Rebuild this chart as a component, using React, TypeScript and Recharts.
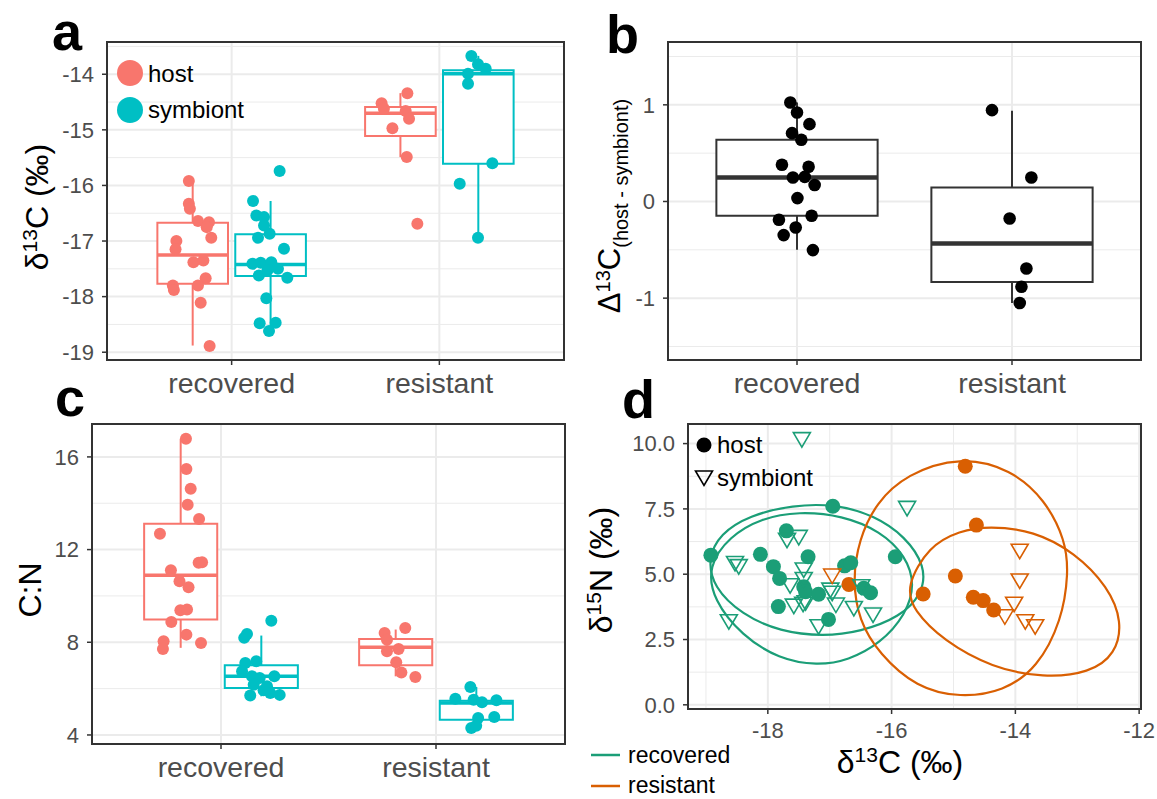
import React from "react";
import {
  ComposedChart,
  XAxis,
  YAxis,
  Scatter,
  Line,
  ReferenceArea,
  ReferenceLine,
} from "recharts";

const FONT = "'Liberation Sans', Arial, Helvetica, sans-serif";
const HOST = "#F8766D";
const SYMB = "#00BFC4";
const REC = "#1B9E77";
const RES = "#D95F02";
const TICK = "#4d4d4d";

const CATS = ["recovered", "resistant"];

// panel a: d13C, [jittered x, value]
const aHostRecovered = [[0.794, -15.92], [0.794, -16.33], [0.799, -16.42], [0.838, -16.64], [0.891, -16.66], [0.88, -16.75], [0.902, -16.94], [0.734, -17.0], [0.73, -17.15], [0.816, -17.38], [0.864, -17.35], [0.717, -17.8], [0.722, -17.88], [0.875, -17.67], [0.838, -17.8], [0.851, -18.11], [0.894, -18.89]];
const aSymbRecovered = [[1.231, -15.74], [1.103, -16.28], [1.119, -16.54], [1.156, -16.57], [1.156, -16.72], [1.183, -16.87], [1.127, -16.94], [1.252, -17.14], [1.1, -17.41], [1.14, -17.39], [1.191, -17.38], [1.223, -17.5], [1.131, -17.62], [1.268, -17.66], [1.172, -17.53], [1.167, -18.03], [1.135, -18.48], [1.212, -18.47], [1.18, -18.62]];
const aHostResistant = [[1.846, -14.34], [1.722, -14.52], [1.733, -14.62], [1.838, -14.66], [1.854, -14.8], [1.774, -14.97], [1.843, -15.49], [1.894, -16.69]];
const aSymbResistant = [[2.154, -13.67], [2.186, -13.82], [2.223, -13.9], [2.138, -13.99], [2.138, -14.17], [2.255, -15.6], [2.098, -15.97], [2.186, -16.94]];
// box stats per category: lower whisker, q1, median, q3, upper whisker
const aHostBox = [[-18.88, -17.77, -17.25, -16.67, -15.92], [-15.49, -15.11, -14.7, -14.59, -14.34]];
const aSymbBox = [[-18.62, -17.63, -17.42, -16.88, -16.28], [-16.94, -15.61, -13.99, -13.93, -13.67]];

// panel b: host - symbiont
const bRecovered = [[0.969, 1.024], [1.0, 0.92], [1.058, 0.8], [0.977, 0.707], [1.02, 0.638], [0.93, 0.38], [1.054, 0.359], [0.981, 0.248], [1.036, 0.255], [1.082, 0.17], [1.002, 0.035], [0.916, -0.189], [1.068, -0.148], [0.994, -0.269], [0.938, -0.348], [1.074, -0.503]];
const bResistant = [[1.907, 0.945], [2.09, 0.248], [1.989, -0.176], [2.067, -0.693], [2.044, -0.882], [2.036, -1.051]];
const bBox = [[-0.5, -0.148, 0.248, 0.638, 1.024], [-1.05, -0.834, -0.434, 0.145, 0.938]];

// panel c: C:N
const cHostRecovered = [[0.837, 16.78], [0.839, 15.48], [0.859, 14.63], [0.845, 13.94], [0.898, 13.32], [0.716, 12.68], [0.896, 11.43], [0.912, 11.45], [0.767, 11.11], [0.807, 10.63], [0.849, 10.37], [0.811, 9.38], [0.842, 9.41], [0.769, 8.88], [0.839, 8.33], [0.733, 8.04], [0.73, 7.71], [0.907, 7.97]];
const cSymbRecovered = [[1.234, 8.93], [1.108, 8.19], [1.121, 8.36], [1.113, 7.11], [1.164, 7.18], [1.098, 6.75], [1.144, 6.53], [1.18, 6.46], [1.248, 6.53], [1.214, 6.1], [1.152, 6.17], [1.229, 5.81], [1.136, 5.7], [1.273, 5.73], [1.198, 5.93]];
const cHostResistant = [[1.857, 8.62], [1.761, 8.4], [1.772, 8.11], [1.826, 7.71], [1.772, 7.61], [1.815, 7.14], [1.839, 6.7], [1.904, 6.5]];
const cSymbResistant = [[2.16, 6.07], [2.09, 5.56], [2.175, 5.52], [2.214, 5.41], [2.281, 5.5], [2.196, 4.73], [2.271, 4.78], [2.164, 4.3], [2.187, 4.4]];
const cHostBox = [[7.76, 8.98, 10.89, 13.12, 16.78], [6.53, 7.01, 7.78, 8.145, 8.55]];
const cSymbBox = [[5.67, 6.03, 6.53, 7.01, 8.29], [4.3, 4.66, 5.38, 5.48, 6.07]];

// panel d: d13C vs d15N
const dRecoveredHost = [[-18.92, 5.73], [-18.12, 5.76], [-17.91, 5.29], [-17.81, 4.84], [-17.83, 3.76], [-17.7, 6.66], [-17.35, 5.67], [-17.42, 4.52], [-17.39, 4.33], [-17.18, 4.23], [-16.95, 7.6], [-17.02, 3.27], [-16.76, 5.32], [-16.66, 5.44], [-16.45, 4.46], [-16.34, 4.29], [-15.94, 5.67]];
const dResistantHost = [[-14.81, 9.13], [-14.63, 6.88], [-16.69, 4.61], [-15.49, 4.24], [-14.97, 4.93], [-14.68, 4.12], [-14.52, 3.99], [-14.35, 3.63]];
const dRecoveredSymb = [[-17.45, 10.15], [-18.53, 5.41], [-18.47, 5.29], [-18.63, 3.18], [-17.69, 6.3], [-17.5, 6.41], [-17.42, 5.16], [-17.42, 4.8], [-17.64, 4.56], [-17.58, 3.78], [-17.43, 3.85], [-17.39, 3.91], [-17.18, 2.99], [-16.99, 4.39], [-16.96, 4.27], [-16.9, 3.82], [-16.61, 3.69], [-16.49, 4.52], [-16.3, 3.44], [-15.75, 7.52]];
const dResistantSymb = [[-16.96, 4.93], [-13.93, 5.88], [-13.93, 4.74], [-14.02, 3.85], [-14.17, 3.37], [-13.84, 3.18], [-13.68, 2.99]];
// ellipse outlines
const ellRecoveredA = [[-18.97, 5.6], [-18.77, 6.55], [-18.3, 7.25], [-17.6, 7.65], [-16.9, 7.68], [-16.28, 7.25], [-15.78, 6.45], [-15.45, 5.3], [-15.5, 4.25], [-15.87, 3.35], [-16.5, 2.8], [-17.1, 2.62], [-17.8, 2.8], [-18.42, 3.45], [-18.88, 4.5]];
const ellRecoveredB = [[-18.97, 5.3], [-18.62, 6.45], [-18.1, 7.15], [-17.5, 7.4], [-16.8, 7.25], [-16.18, 6.65], [-15.77, 5.7], [-15.62, 4.6], [-15.77, 3.45], [-16.18, 2.35], [-16.7, 1.7], [-17.2, 1.5], [-17.82, 1.75], [-18.42, 2.65], [-18.88, 4.0]];
const ellResistantHost = [[-16.63, 4.78], [-16.53, 6.32], [-16.25, 7.74], [-15.76, 8.83], [-14.89, 9.52], [-14.07, 9.02], [-13.52, 7.86], [-13.19, 6.3], [-13.14, 5.03], [-13.25, 3.23], [-13.64, 1.42], [-14.19, 0.52], [-14.89, 0.27], [-15.6, 0.66], [-16.2, 1.95], [-16.53, 3.23]];
const ellResistantSymb = [[-15.77, 4.52], [-15.4, 6.08], [-14.9, 6.66], [-14.43, 6.85], [-13.7, 6.66], [-13.04, 5.83], [-12.5, 4.52], [-12.27, 3.18], [-12.38, 1.94], [-12.8, 1.22], [-13.54, 1.03], [-14.38, 1.42], [-15.16, 2.45], [-15.65, 3.62]];

const pts = (arr: number[][]) => arr.map(([x, y]) => ({ x, y }));

const dot = (fill: string, r: number) => (p: any) => (
  <circle cx={p.cx} cy={p.cy} r={r} fill={fill} />
);

const tri = (stroke: string) => (p: any) => (
  <polygon
    points={`${p.cx - 8.5},${p.cy - 7} ${p.cx + 8.5},${p.cy - 7} ${p.cx},${p.cy + 7.5}`}
    fill="none"
    stroke={stroke}
    strokeWidth={1.6}
  />
);

const grid = (id: string, xMajor: number[], xMinor: number[], yMajor: number[], yMinor: number[]) => [
  ...xMinor.map((v) => <ReferenceLine key={`${id}xm${v}`} x={v} stroke="#ebebeb" strokeWidth={1} zIndex={-100} />),
  ...yMinor.map((v) => <ReferenceLine key={`${id}ym${v}`} y={v} stroke="#ebebeb" strokeWidth={1} zIndex={-100} />),
  ...xMajor.map((v) => <ReferenceLine key={`${id}xM${v}`} x={v} stroke="#ebebeb" strokeWidth={2} zIndex={-100} />),
  ...yMajor.map((v) => <ReferenceLine key={`${id}yM${v}`} y={v} stroke="#ebebeb" strokeWidth={2} zIndex={-100} />),
];

const box = (id: string, cx: number, half: number, s: number[], color: string, lw: number, mw: number) => [
  <ReferenceLine key={`${id}lo`} segment={[{ x: cx, y: s[0] }, { x: cx, y: s[1] }]} stroke={color} strokeWidth={lw} zIndex={150} />,
  <ReferenceLine key={`${id}hi`} segment={[{ x: cx, y: s[3] }, { x: cx, y: s[4] }]} stroke={color} strokeWidth={lw} zIndex={150} />,
  <ReferenceArea key={`${id}bx`} x1={cx - half} x2={cx + half} y1={s[1]} y2={s[3]} fill="#fff" fillOpacity={1} stroke={color} strokeWidth={lw} zIndex={100} />,
  <ReferenceLine key={`${id}md`} segment={[{ x: cx - half, y: s[2] }, { x: cx + half, y: s[2] }]} stroke={color} strokeWidth={mw} zIndex={150} />,
];

const frame = (xd: number[], yd: number[]) => (
  <ReferenceArea x1={xd[0]} x2={xd[1]} y1={yd[0]} y2={yd[1]} fill="none" stroke="#333" strokeWidth={2} zIndex={700} ifOverflow="visible" />
);

const xCat = (size: number) => (
  <XAxis
    type="number"
    dataKey="x"
    domain={[0.4, 2.6]}
    ticks={[1, 2]}
    interval={0}
    allowDataOverflow
    tickFormatter={(v: number) => CATS[Math.round(v) - 1]}
    axisLine={false}
    tickLine={{ stroke: "#333", strokeWidth: 1.5 }}
    tickSize={5}
    tickMargin={8}
    height={40}
    tick={{ fill: TICK, fontSize: size, fontFamily: FONT }}
  />
);

const yNum = (domain: number[], ticks: number[], fmt?: (v: number) => string) => (
  <YAxis
    type="number"
    dataKey="y"
    domain={domain}
    ticks={ticks}
    interval={0}
    allowDataOverflow
    tickFormatter={fmt}
    axisLine={false}
    tickLine={{ stroke: "#333", strokeWidth: 1.5 }}
    tickSize={5}
    tickMargin={8}
    width={60}
    tick={{ fill: TICK, fontSize: 22, fontFamily: FONT }}
  />
);

const DX = 0.1875;
const HW = 0.17;
const CAT_SIZE = 28.5;

function PanelA() {
  const yd = [-19.14, -13.42];
  return (
    <ComposedChart width={580} height={400} margin={{ top: 42, right: 16, bottom: 0, left: 47 }}>
      {xCat(CAT_SIZE)}
      {yNum(yd, [-19, -18, -17, -16, -15, -14])}
      {grid("a", [1, 2], [], [-19, -18, -17, -16, -15, -14], [-18.5, -17.5, -16.5, -15.5, -14.5, -13.5])}
      {box("ah1", 1 - DX, HW, aHostBox[0], HOST, 2, 3.5)}
      {box("as1", 1 + DX, HW, aSymbBox[0], SYMB, 2, 3.5)}
      {box("ah2", 2 - DX, HW, aHostBox[1], HOST, 2, 3.5)}
      {box("as2", 2 + DX, HW, aSymbBox[1], SYMB, 2, 3.5)}
      <Scatter data={pts(aHostRecovered)} shape={dot(HOST, 6)} isAnimationActive={false} />
      <Scatter data={pts(aSymbRecovered)} shape={dot(SYMB, 6)} isAnimationActive={false} />
      <Scatter data={pts(aHostResistant)} shape={dot(HOST, 6)} isAnimationActive={false} />
      <Scatter data={pts(aSymbResistant)} shape={dot(SYMB, 6)} isAnimationActive={false} />
      {frame([0.4, 2.6], yd)}
    </ComposedChart>
  );
}

function PanelB() {
  const yd = [-1.64, 1.65];
  return (
    <ComposedChart width={577} height={400} margin={{ top: 42, right: 16, bottom: 0, left: 28 }}>
      {xCat(CAT_SIZE)}
      {yNum(yd, [-1, 0, 1])}
      {grid("b", [1, 2], [], [-1, 0, 1], [-1.5, -0.5, 0.5, 1.5])}
      {box("b1", 1, 0.375, bBox[0], "#333", 2, 4.5)}
      {box("b2", 2, 0.375, bBox[1], "#333", 2, 4.5)}
      <Scatter data={pts(bRecovered)} shape={dot("#000", 6.3)} isAnimationActive={false} />
      <Scatter data={pts(bResistant)} shape={dot("#000", 6.3)} isAnimationActive={false} />
      {frame([0.4, 2.6], yd)}
    </ComposedChart>
  );
}

function PanelC() {
  const yd = [3.61, 17.42];
  return (
    <ComposedChart width={580} height={399} margin={{ top: 24, right: 15, bottom: 15, left: 32 }}>
      {xCat(CAT_SIZE)}
      {yNum(yd, [4, 8, 12, 16])}
      {grid("c", [1, 2], [], [4, 8, 12, 16], [6, 10, 14])}
      {box("ch1", 1 - DX, HW, cHostBox[0], HOST, 2, 3.5)}
      {box("cs1", 1 + DX, HW, cSymbBox[0], SYMB, 2, 3.5)}
      {box("ch2", 2 - DX, HW, cHostBox[1], HOST, 2, 3.5)}
      {box("cs2", 2 + DX, HW, cSymbBox[1], SYMB, 2, 3.5)}
      <Scatter data={pts(cHostRecovered)} shape={dot(HOST, 6)} isAnimationActive={false} />
      <Scatter data={pts(cSymbRecovered)} shape={dot(SYMB, 6)} isAnimationActive={false} />
      <Scatter data={pts(cHostResistant)} shape={dot(HOST, 6)} isAnimationActive={false} />
      <Scatter data={pts(cSymbResistant)} shape={dot(SYMB, 6)} isAnimationActive={false} />
      {frame([0.4, 2.6], yd)}
    </ComposedChart>
  );
}

function PanelD() {
  const xd = [-19.29, -11.97];
  const yd = [-0.16, 10.75];
  const ell = (data: number[][], color: string) => (
    <Line data={pts(data)} dataKey="y" type="basisClosed" stroke={color} strokeWidth={2.2} dot={false} activeDot={false} isAnimationActive={false} zIndex={400} />
  );
  return (
    <ComposedChart width={577} height={399} margin={{ top: 24, right: 16, bottom: 50, left: 48 }}>
      <XAxis
        type="number"
        dataKey="x"
        domain={xd}
        ticks={[-18, -16, -14, -12]}
        interval={0}
        allowDataOverflow
        axisLine={false}
        tickLine={{ stroke: "#333", strokeWidth: 1.5 }}
        tickSize={5}
        tickMargin={8}
        height={40}
        tick={{ fill: TICK, fontSize: 22, fontFamily: FONT }}
      />
      {yNum(yd, [0, 2.5, 5, 7.5, 10], (v) => v.toFixed(1))}
      {grid("d", [-18, -16, -14, -12], [-19, -17, -15, -13], [0, 2.5, 5, 7.5, 10], [1.25, 3.75, 6.25, 8.75])}
      {ell(ellRecoveredA, REC)}
      {ell(ellRecoveredB, REC)}
      {ell(ellResistantHost, RES)}
      {ell(ellResistantSymb, RES)}
      <Scatter data={pts(dRecoveredHost)} shape={dot(REC, 7.5)} isAnimationActive={false} />
      <Scatter data={pts(dResistantHost)} shape={dot(RES, 7.5)} isAnimationActive={false} />
      <Scatter data={pts(dRecoveredSymb)} shape={tri(REC)} isAnimationActive={false} />
      <Scatter data={pts(dResistantSymb)} shape={tri(RES)} isAnimationActive={false} />
      {frame(xd, yd)}
    </ComposedChart>
  );
}

export default function App() {
  return (
    <div style={{ position: "absolute", left: 0, top: 0, width: 1157, height: 799, background: "#fff", fontFamily: FONT, overflow: "hidden" }}>
      <div style={{ position: "absolute", left: 0, top: 0 }}><PanelA /></div>
      <div style={{ position: "absolute", left: 580, top: 0 }}><PanelB /></div>
      <div style={{ position: "absolute", left: 0, top: 400 }}><PanelC /></div>
      <div style={{ position: "absolute", left: 580, top: 400 }}><PanelD /></div>
      <svg width={1157} height={799} style={{ position: "absolute", left: 0, top: 0, pointerEvents: "none" }} fontFamily={FONT}>
        <text x={52} y={50} fontSize={54} fontWeight="bold">a</text>
        <text x={606} y={53} fontSize={54} fontWeight="bold">b</text>
        <text x={55} y={416} fontSize={54} fontWeight="bold">c</text>
        <text x={622} y={418} fontSize={54} fontWeight="bold">d</text>

        <text transform="translate(48,207) rotate(-90)" textAnchor="middle" fontSize={32}>
          δ<tspan dy={-11} fontSize={21}>13</tspan><tspan dy={11}>C (‰)</tspan>
        </text>
        <text transform="translate(620,206) rotate(-90)" textAnchor="middle" fontSize={31}>
          Δ<tspan dy={-10} fontSize={20}>13</tspan><tspan dy={10}>C</tspan><tspan dy={8} fontSize={20}>(host - symbiont)</tspan>
        </text>
        <text transform="translate(41,590) rotate(-90)" textAnchor="middle" fontSize={32}>C:N</text>
        <text transform="translate(612,570) rotate(-90)" textAnchor="middle" fontSize={32}>
          δ<tspan dy={-11} fontSize={21}>15</tspan><tspan dy={11}>N (‰)</tspan>
        </text>
        <text x={900} y={773} textAnchor="middle" fontSize={32}>
          δ<tspan dy={-11} fontSize={21}>13</tspan><tspan dy={11}>C (‰)</tspan>
        </text>

        <circle cx={130} cy={73} r={13} fill={HOST} />
        <text x={148} y={82} fontSize={24}>host</text>
        <circle cx={130} cy={110} r={13} fill={SYMB} />
        <text x={148} y={118} fontSize={24}>symbiont</text>

        <circle cx={704} cy={445} r={7.5} fill="#000" />
        <text x={717} y={453} fontSize={24}>host</text>
        <polygon points="695.5,471 712.5,471 704,485.5" fill="none" stroke="#000" strokeWidth={1.6} />
        <text x={717} y={486} fontSize={24}>symbiont</text>

        <line x1={591} y1={755} x2={620} y2={755} stroke={REC} strokeWidth={2.5} />
        <text x={628} y={763} fontSize={23}>recovered</text>
        <line x1={591} y1={786} x2={620} y2={786} stroke={RES} strokeWidth={2.5} />
        <text x={628} y={793} fontSize={23}>resistant</text>
      </svg>
    </div>
  );
}
